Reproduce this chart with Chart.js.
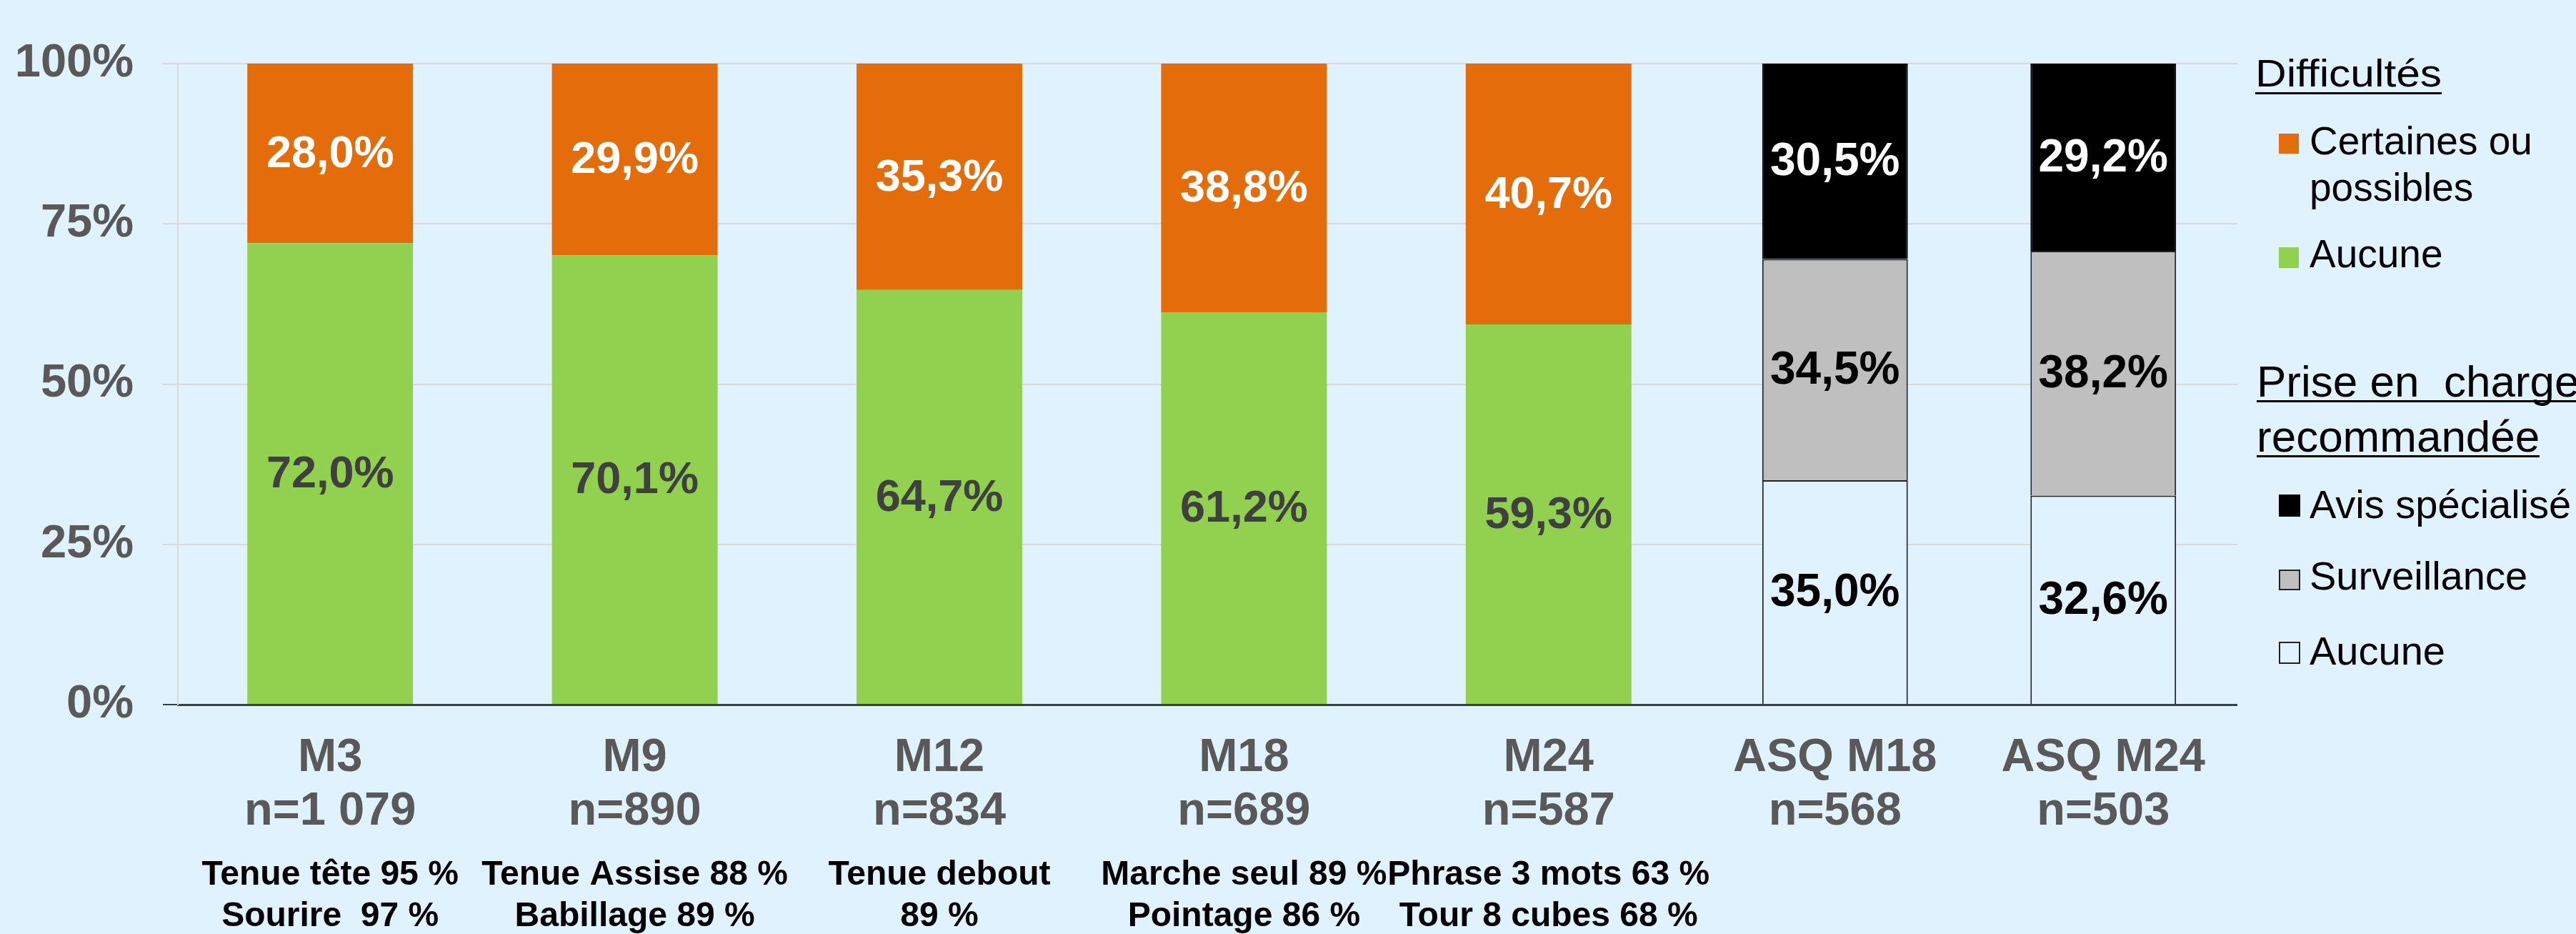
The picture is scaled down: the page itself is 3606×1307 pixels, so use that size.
<!DOCTYPE html>
<html>
<head>
<meta charset="utf-8">
<script src="https://cdn.jsdelivr.net/npm/chart.js@4/dist/chart.umd.min.js"></script>
<style>
  html, body { margin:0; padding:0; }
  body { width:3606px; height:1307px; overflow:hidden; position:relative; background:#E0F2FD;
         font-family:'Liberation Sans', Arial, sans-serif; }
  canvas { position:absolute; top:0; }
  .lg { position:absolute; white-space:nowrap; color:#000; line-height:1; }
  .hd { display:inline-block; border-bottom:3px solid #000; }
  .sq { position:absolute; box-sizing:border-box; }
</style>
</head>
<body>
<canvas id="chartA" width="2600" height="1307" style="left:0"></canvas>
<canvas id="chartB" width="751" height="1307" style="left:2381px"></canvas>

<div class="lg" style="left:3157px; top:75px; font-size:54px; transform:scaleX(1.12); transform-origin:left top;"><span class="hd" style="height:54px; line-height:54px;">Difficultés</span></div>
<div class="sq" style="left:3190px; top:187px; width:28px; height:28px; background:#E46C0A;"></div>
<div class="lg" style="left:3233px; top:170px; font-size:55px;">Certaines ou</div>
<div class="lg" style="left:3233px; top:235px; font-size:55px;">possibles</div>
<div class="sq" style="left:3190px; top:346px; width:28px; height:29px; background:#92D050;"></div>
<div class="lg" style="left:3233px; top:328px; font-size:55px;">Aucune</div>

<div class="lg" style="left:3159px; top:503px; font-size:62px;"><span class="hd" style="height:57px; line-height:62px;">Prise en&nbsp; charge</span></div>
<div class="lg" style="left:3159px; top:580px; font-size:62px;"><span class="hd" style="height:57px; line-height:62px;">recommandée</span></div>
<div class="sq" style="left:3190px; top:692px; width:30px; height:31px; background:#000;"></div>
<div class="lg" style="left:3233px; top:678px; font-size:56px;">Avis spécialisé</div>
<div class="sq" style="left:3190px; top:797px; width:30px; height:29px; background:#BFBFBF; border:2px solid #222;"></div>
<div class="lg" style="left:3233px; top:778px; font-size:56px;">Surveillance</div>
<div class="sq" style="left:3190px; top:898px; width:30px; height:31px; background:#E0F2FD; border:2px solid #222;"></div>
<div class="lg" style="left:3233px; top:883px; font-size:56px;">Aucune</div>

<script>
// ---------- DATA ----------
const categories = ['M3', 'M9', 'M12', 'M18', 'M24'];
const sampleSizes = ['n=1 079', 'n=890', 'n=834', 'n=689', 'n=587'];
const milestones = [
  ['Tenue tête 95 %', 'Sourire  97 %'],
  ['Tenue Assise 88 %', 'Babillage 89 %'],
  ['Tenue debout', '89 %'],
  ['Marche seul 89 %', 'Pointage 86 %'],
  ['Phrase 3 mots 63 %', 'Tour 8 cubes 68 %']
];
const difficultesAucune = [72.0, 70.1, 64.7, 61.2, 59.3];
const difficultesCertaines = [28.0, 29.9, 35.3, 38.8, 40.7];

const asqCategories = ['ASQ M18', 'ASQ M24'];
const asqSampleSizes = ['n=568', 'n=503'];
const priseAucune = [35.0, 32.6];
const priseSurveillance = [34.5, 38.2];
const priseAvis = [30.5, 29.2];

const yTickStep = 25;
const yMax = 100;

// ---------- STYLE ----------
const BG = '#E0F2FD';
const FONT = "'Liberation Sans', Arial, sans-serif";
Chart.defaults.font.family = FONT;
Chart.defaults.animation = false;

const fmt = v => v.toFixed(1).replace('.', ',') + '%';

const valueLabels = {
  id: 'valueLabels',
  afterDatasetsDraw(chart, args, opts) {
    const ctx = chart.ctx;
    chart.data.datasets.forEach((ds, i) => {
      const meta = chart.getDatasetMeta(i);
      meta.data.forEach((bar, j) => {
        const p = bar.getProps(['x', 'y', 'base'], true);
        ctx.save();
        ctx.font = 'bold ' + opts.size + 'px ' + FONT;
        ctx.fillStyle = opts.colors[i];
        ctx.textAlign = 'center';
        ctx.textBaseline = 'middle';
        ctx.fillText(fmt(ds.data[j]), p.x, (p.y + p.base) / 2 + 2);
        ctx.restore();
      });
    });
  }
};

const gridColor = ctx => (ctx.tick && ctx.tick.value === 0) ? '#3A3F44' : '#D9D9D9';
const fixHeight = h => s => { s.height = h; s.paddingLeft = 0; s.paddingRight = 0; };

// ---------- CHART A ----------
new Chart(document.getElementById('chartA'), {
  type: 'bar',
  data: {
    labels: categories.map((c, i) => [c, sampleSizes[i]]),
    datasets: [
      { label: 'Aucune', data: difficultesAucune, backgroundColor: '#92D050',
        barPercentage: 0.544, categoryPercentage: 1, borderWidth: 0 },
      { label: 'Certaines ou possibles', data: difficultesCertaines, backgroundColor: '#E46C0A',
        barPercentage: 0.544, categoryPercentage: 1, borderWidth: 0 }
    ]
  },
  options: {
    responsive: false,
    devicePixelRatio: 1,
    layout: { padding: { top: 89, right: 219, bottom: 0, left: 0 } },
    plugins: {
      legend: { display: false },
      tooltip: { enabled: false },
      valueLabels: { size: 63, colors: ['#404040', '#FFFFFF'] }
    },
    scales: {
      x: {
        stacked: true,
        grid: { display: false, drawTicks: false },
        border: { display: true, color: '#3A3F44', width: 3 },
        ticks: { color: '#595959', font: { size: 65, weight: 'bold', lineHeight: 1.15 }, padding: 38, maxRotation: 0, autoSkip: false },
        afterFit: fixHeight(190)
      },
      x2: {
        type: 'category',
        labels: milestones,
        position: 'bottom',
        offset: true,
        weight: 1,
        grid: { display: false, drawTicks: false },
        border: { display: false },
        ticks: { color: '#000000', font: { size: 48, weight: 'bold', lineHeight: 1.2 }, padding: 20, maxRotation: 0, autoSkip: false },
        afterFit: fixHeight(131)
      },
      y: {
        stacked: true,
        min: 0, max: yMax,
        ticks: { stepSize: yTickStep, color: '#595959', font: { size: 65, weight: 'bold' }, padding: 41,
                 callback: v => v + '%' },
        grid: { color: gridColor, lineWidth: 2, tickLength: 21, drawTicks: true },
        border: { display: true, color: '#D9D9D9', width: 2 },
        afterFit: s => { s.width = 249; }
      }
    }
  },
  plugins: [valueLabels]
});

// ---------- CHART B ----------
new Chart(document.getElementById('chartB'), {
  type: 'bar',
  data: {
    labels: asqCategories.map((c, i) => [c, asqSampleSizes[i]]),
    datasets: [
      { label: 'Aucune', data: priseAucune, backgroundColor: BG, borderColor: '#222222', borderWidth: 2,
        barPercentage: 0.543, categoryPercentage: 1 },
      { label: 'Surveillance', data: priseSurveillance, backgroundColor: '#BFBFBF', borderColor: '#222222', borderWidth: 2,
        barPercentage: 0.543, categoryPercentage: 1 },
      { label: 'Avis spécialisé', data: priseAvis, backgroundColor: '#000000', borderColor: '#000000', borderWidth: 2,
        barPercentage: 0.543, categoryPercentage: 1 }
    ]
  },
  options: {
    responsive: false,
    devicePixelRatio: 1,
    layout: { padding: { top: 89, right: 0, bottom: 131, left: 0 } },
    plugins: {
      legend: { display: false },
      tooltip: { enabled: false },
      valueLabels: { size: 64, colors: ['#000000', '#000000', '#FFFFFF'] }
    },
    scales: {
      x: {
        stacked: true,
        grid: { display: false, drawTicks: false },
        border: { display: true, color: '#3A3F44', width: 3 },
        ticks: { color: '#595959', font: { size: 65, weight: 'bold', lineHeight: 1.15 }, padding: 38, maxRotation: 0, autoSkip: false },
        afterFit: fixHeight(190)
      },
      y: {
        stacked: true,
        min: 0, max: yMax,
        ticks: { display: false, stepSize: yTickStep },
        grid: { color: gridColor, lineWidth: 2, drawTicks: false },
        border: { display: false },
        afterFit: s => { s.width = 0; }
      }
    }
  },
  plugins: [valueLabels]
});
</script>
</body>
</html>
